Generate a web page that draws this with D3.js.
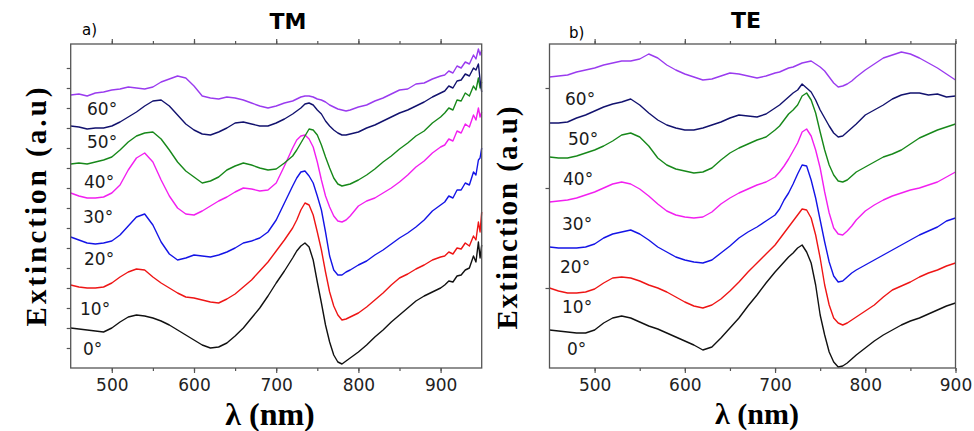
<!DOCTYPE html>
<html lang="en">
<head>
<meta charset="UTF-8">
<title>Extinction spectra TM / TE</title>
<style>
* {
    margin: 0;
    padding: 0;
}
body {
    background: #fff;
}
svg {
    display: block;
}
.tick line {
    stroke: #555;
    stroke-width: 1.2;
}
.domain {
    display: none;
}
</style>
<script src="https://cdn.jsdelivr.net/npm/d3@7/dist/d3.min.js"></script>
</head>
<body>
<div id="chart"></div>
<script>
// angle of incidence for each curve, bottom to top
var angles = ['0°', '10°', '20°', '30°', '40°', '50°', '60°'];
var colors = ['#111111', '#ee1515', '#1414e6', '#f21ff0', '#17881a', '#12126e', '#9a3bef'];

// TM wavelengths (nm)
var tmWl = [450, 460, 470, 480, 490, 500, 510, 520, 530, 540, 550, 560, 570, 580, 590, 600, 610, 620, 630, 640,
    650, 660, 670, 680, 690, 700, 710, 720, 725, 730, 735, 740, 745, 750, 755, 760, 765, 770, 775, 780, 785, 790,
    800, 810, 820, 830, 840, 850, 860, 870, 880, 890, 900, 905, 910, 915, 920, 925, 930, 935, 940, 943, 946, 948, 950];

// TM extinction (a.u., curves offset)
var tm0 = [4.0, 3.9, 3.8, 3.7, 3.6, 4.0, 4.6, 5.1, 5.3, 5.2, 5.0, 4.7, 4.3, 3.8, 3.3, 2.8, 2.3, 2.0, 2.1, 2.5,
    3.2, 4.0, 5.0, 6.0, 7.2, 8.5, 9.7, 11.0, 11.7, 12.2, 12.5, 12.1, 10.8, 8.6, 6.5, 4.3, 2.6, 1.3, 0.6, 0.4, 0.7, 1.0,
    1.6, 2.3, 3.1, 3.8, 4.6, 5.3, 6.0, 6.7, 7.2, 7.6, 8.0, 8.3, 8.7, 8.6, 9.2, 9.3, 9.8, 10.0, 11.2, 10.6, 12.6, 11.0, 12.3];
var tm10 = [8.3, 8.1, 8.0, 8.0, 8.1, 8.5, 9.1, 9.6, 9.9, 9.8, 9.1, 8.5, 8.0, 7.5, 7.1, 7.0, 6.8, 6.6, 6.5, 6.9,
    7.4, 8.1, 8.8, 9.7, 10.6, 11.7, 12.8, 14.0, 14.8, 15.8, 16.5, 16.3, 15.3, 13.6, 11.8, 9.6, 7.6, 6.2, 5.3, 4.8, 4.9, 5.1,
    5.5, 6.1, 6.8, 7.5, 8.3, 9.0, 9.4, 9.9, 10.3, 10.8, 11.1, 11.2, 11.6, 11.4, 12.0, 11.9, 12.5, 12.2, 13.2, 12.8, 14.6, 13.6, 15.6];
var tm20 = [13.1, 12.8, 12.5, 12.4, 12.5, 12.7, 13.3, 14.2, 15.1, 15.4, 14.3, 12.6, 11.4, 10.8, 11.0, 11.3, 11.2, 11.1, 11.3, 11.6,
    12.0, 12.5, 12.7, 13.0, 13.6, 14.8, 16.5, 18.2, 19.0, 19.6, 19.7, 19.2, 18.5, 17.2, 15.8, 13.6, 11.2, 9.8, 9.3, 9.3, 9.6, 9.8,
    10.3, 10.7, 11.3, 11.8, 12.4, 13.0, 13.5, 14.1, 14.8, 15.7, 16.3, 16.6, 17.2, 17.0, 17.8, 17.8, 18.5, 18.3, 19.6, 19.3, 20.8, 21.0, 22.0];
var tm30 = [17.5, 17.2, 17.0, 17.0, 17.1, 17.5, 18.3, 19.8, 21.0, 21.5, 20.6, 18.8, 17.2, 16.0, 15.4, 15.3, 15.7, 16.2, 16.7, 17.1,
    17.6, 18.0, 17.9, 17.7, 17.8, 18.5, 20.2, 22.0, 22.8, 23.2, 23.3, 22.9, 22.1, 20.6, 18.8, 17.2, 16.1, 15.2, 14.7, 14.6, 14.8, 15.2,
    16.2, 16.7, 17.0, 17.5, 18.0, 18.6, 19.3, 20.1, 20.7, 21.5, 22.1, 22.3, 22.9, 22.7, 23.7, 23.5, 24.4, 24.1, 25.3, 24.8, 26.0, 25.1, 25.6];
var tm40 = [20.4, 20.5, 20.4, 20.6, 20.8, 21.1, 21.8, 22.6, 23.2, 23.5, 23.6, 22.9, 21.8, 20.6, 19.7, 19.1, 18.5, 18.7, 19.1, 19.8,
    20.2, 20.5, 20.3, 20.0, 19.8, 19.9, 20.5, 21.2, 21.8, 22.5, 23.2, 23.9, 23.8, 23.3, 22.3, 21.1, 20.0, 19.0, 18.4, 18.2, 18.3, 18.4,
    18.8, 19.3, 19.9, 20.6, 21.2, 21.9, 22.5, 23.2, 23.7, 24.5, 25.1, 25.5, 26.0, 25.8, 26.8, 26.7, 27.5, 27.2, 28.2, 27.8, 29.0, 28.0, 28.6];
var tm50 = [24.2, 24.1, 23.9, 24.0, 24.0, 24.2, 24.6, 25.1, 25.6, 26.2, 26.7, 26.8, 26.2, 25.3, 24.4, 23.8, 23.4, 23.3, 23.6, 24.0,
    24.5, 24.6, 24.4, 24.2, 24.2, 24.5, 24.9, 25.4, 25.7, 26.0, 26.4, 26.5, 26.3, 25.8, 25.4, 24.7, 24.2, 23.8, 23.5, 23.3, 23.3, 23.4,
    23.6, 24.0, 24.3, 24.7, 25.1, 25.5, 25.8, 26.2, 26.6, 27.1, 27.5, 27.7, 28.2, 28.0, 28.7, 28.8, 29.4, 29.2, 30.0, 29.8, 30.4, 28.8, 27.6];
var tm60 = [27.3, 27.4, 27.2, 27.5, 27.6, 27.8, 27.9, 28.1, 28.0, 27.9, 28.1, 28.6, 28.9, 29.2, 29.0, 28.2, 27.2, 27.0, 26.9, 27.1,
    27.0, 26.8, 26.5, 26.2, 26.0, 26.2, 26.5, 26.7, 26.9, 27.1, 27.2, 27.2, 27.1, 26.9, 26.8, 26.6, 26.3, 26.1, 25.9, 25.8, 25.7, 25.8,
    26.1, 26.3, 26.7, 27.0, 27.4, 27.8, 27.9, 28.4, 28.5, 28.9, 29.2, 29.3, 29.7, 29.5, 30.2, 30.0, 30.6, 30.4, 31.3, 30.9, 31.9, 31.3, 31.8];

// TE wavelengths (nm)
var teWl = [450, 460, 470, 480, 490, 500, 510, 520, 530, 540, 550, 560, 570, 580, 590, 600, 610, 620, 630, 640,
    650, 660, 670, 680, 690, 700, 705, 710, 715, 720, 725, 730, 735, 740, 745, 750, 755, 760, 765, 770, 775, 780, 785, 790,
    800, 810, 820, 830, 840, 850, 860, 870, 880, 890, 900];

// TE extinction (a.u., curves offset)
var te0 = [3.8, 3.7, 3.6, 3.5, 3.5, 3.8, 4.5, 5.0, 5.2, 5.0, 4.6, 4.2, 3.9, 3.5, 3.1, 2.7, 2.3, 1.8, 2.1, 3.0,
    4.0, 5.0, 6.2, 7.3, 8.5, 9.6, 10.1, 10.6, 11.1, 11.5, 12.0, 12.3, 11.6, 10.5, 8.3, 5.3, 3.3, 1.6, 0.6, 0.1, 0.2, 0.5, 0.9, 1.3,
    2.0, 2.7, 3.3, 3.8, 4.3, 4.7, 5.0, 5.4, 5.8, 6.2, 6.5];
var te10 = [8.0, 7.7, 7.5, 7.5, 7.6, 7.9, 8.5, 9.0, 9.1, 9.0, 8.7, 8.3, 8.0, 7.6, 7.1, 6.6, 6.2, 6.0, 6.3, 6.9,
    7.7, 8.6, 9.6, 10.5, 11.4, 12.3, 12.9, 13.5, 14.1, 14.7, 15.3, 15.9, 15.8, 15.0, 13.3, 11.0, 8.3, 6.3, 5.0, 4.5, 4.3, 4.5, 4.8, 5.1,
    5.7, 6.3, 7.1, 7.8, 8.2, 8.6, 9.1, 9.5, 9.8, 10.2, 10.5];
var te20 = [12.1, 12.0, 12.0, 12.0, 12.1, 12.4, 13.0, 13.4, 13.6, 13.8, 13.4, 12.8, 12.1, 11.6, 11.1, 10.8, 10.6, 10.5, 10.8, 11.5,
    12.2, 13.0, 13.6, 14.1, 14.7, 15.3, 15.9, 16.8, 17.5, 18.4, 19.4, 20.3, 20.2, 18.8, 17.0, 14.8, 12.6, 10.6, 9.2, 8.6, 8.7, 9.1, 9.5, 9.8,
    10.3, 10.8, 11.3, 11.8, 12.3, 12.8, 13.3, 13.7, 14.1, 14.7, 15.0];
var te30 = [16.6, 16.7, 16.8, 17.0, 17.3, 17.6, 18.0, 18.4, 18.6, 18.4, 17.9, 17.2, 16.4, 15.7, 15.3, 15.1, 15.0, 15.1, 15.6, 16.4,
    17.0, 17.5, 17.9, 18.3, 18.6, 19.1, 19.6, 20.2, 20.9, 21.7, 22.5, 23.6, 23.9, 23.2, 21.8, 20.0, 17.6, 15.5, 14.0, 13.4, 13.3, 13.7, 14.2, 14.8,
    15.7, 16.3, 16.8, 17.2, 17.5, 17.8, 18.0, 18.3, 18.6, 19.1, 19.6];
var te40 = [21.1, 21.0, 21.0, 21.2, 21.5, 21.8, 22.2, 22.7, 23.3, 23.5, 23.1, 22.2, 21.0, 20.3, 19.9, 19.7, 19.5, 19.6, 20.0, 20.8,
    21.5, 22.0, 22.4, 22.8, 23.1, 23.8, 24.2, 24.8, 25.4, 25.8, 26.3, 27.2, 27.5, 26.8, 25.5, 23.6, 21.8, 20.3, 19.3, 18.7, 18.6, 18.8, 19.2, 19.6,
    20.1, 20.6, 21.1, 21.4, 21.8, 22.4, 23.0, 23.4, 23.8, 24.1, 24.4];
var te50 = [24.5, 24.5, 24.6, 25.0, 25.3, 25.7, 26.1, 26.4, 26.6, 26.9, 26.3, 25.5, 24.8, 24.3, 24.0, 23.8, 23.8, 24.0, 24.3, 24.6,
    25.0, 25.3, 25.2, 25.1, 25.4, 26.0, 26.3, 26.7, 27.1, 27.5, 27.8, 28.4, 28.0, 27.6, 26.8, 25.8, 25.0, 24.2, 23.5, 23.1, 23.2, 23.6, 24.0, 24.4,
    25.3, 25.8, 26.3, 26.9, 27.3, 27.5, 27.5, 27.3, 27.4, 27.1, 27.2];
var te60 = [29.1, 29.2, 29.3, 29.6, 29.8, 30.0, 30.3, 30.5, 30.7, 30.7, 30.9, 31.4, 31.0, 30.3, 29.8, 29.4, 29.1, 28.8, 28.9, 29.2,
    29.5, 29.4, 29.2, 29.0, 29.2, 29.5, 29.6, 29.8, 30.0, 30.1, 30.3, 30.5, 30.6, 30.7, 30.4, 30.1, 29.7, 29.1, 28.5, 28.1, 28.2, 28.4, 28.7, 29.1,
    29.8, 30.4, 31.0, 31.3, 31.6, 31.4, 31.0, 30.5, 30.0, 29.4, 28.8];

var xTickLabels = [500, 600, 700, 800, 900];
var xMinorTicks = [500, 550, 600, 650, 700, 750, 800, 850, 900];
var tmYTicks = [2, 4, 6, 8, 10, 12, 14, 16, 18, 20, 22, 24, 26, 28, 30];
var teYTicks = [8, 18, 28];

var w = 974,
    h = 431,
    plotTop = 44,
    plotBottom = 368,
    sansFont = '"DejaVu Sans", Verdana, sans-serif',
    serifFont = '"Liberation Serif", "Times New Roman", serif';

var svg = d3.select('#chart')
    .append('svg')
    .attr('width', w)
    .attr('height', h);

var panels = [
    {
        title: 'TM', tag: 'a)', wl: tmWl,
        series: [tm0, tm10, tm20, tm30, tm40, tm50, tm60],
        xDomain: [450, 950], left: 70.7, right: 481.7, yTicks: tmYTicks,
        titleX: 288, titleY: 29, tagX: 82, tagY: 35,
        tickPad: 6, xLabelX: 270, xLabelY: 425, xLabelSize: 32,
        yLabelX: 46, yLabelY: 207, yLabelLen: 239,
        labels: [[83, 355], [80, 315], [84, 265], [83, 223], [84, 188], [87, 148], [87, 115]]
    },
    {
        title: 'TE', tag: 'b)', wl: teWl,
        series: [te0, te10, te20, te30, te40, te50, te60],
        xDomain: [450, 900], left: 549.5, right: 955.5, yTicks: teYTicks,
        titleX: 746, titleY: 28, tagX: 569, tagY: 38,
        tickPad: 6, xLabelX: 757, xLabelY: 424, xLabelSize: 30,
        yLabelX: 517, yLabelY: 218, yLabelLen: 223,
        labels: [[567, 355], [562, 313], [560, 273], [562, 230], [563, 185], [568, 145], [565, 105]]
    }
];

panels.forEach(function (p) {
    var xScale = d3.scaleLinear().domain(p.xDomain).range([p.left, p.right]);
    var yScale = d3.scaleLinear().domain([0, 32.4]).range([plotBottom, plotTop]);
    var g = svg.append('g');

    // CURVES
    var line = d3.line()
        .x(function (d) { return xScale(d[0]); })
        .y(function (d) { return yScale(d[1]); });

    p.series.forEach(function (vals, i) {
        var pts = p.wl.map(function (wl, k) { return [wl, vals[k]]; });
        g.append('path')
            .datum(pts)
            .attr('d', line)
            .attr('fill', 'none')
            .attr('stroke', colors[i])
            .attr('stroke-width', 1.4)
            .attr('stroke-linejoin', 'round');
    });

    // AXES (ticks pointing outwards)
    g.append('g')
        .attr('transform', 'translate(0,' + plotBottom + ')')
        .call(d3.axisBottom(xScale).tickValues(xMinorTicks).tickSize(3).tickFormat(''));
    var xAxis = g.append('g')
        .attr('transform', 'translate(0,' + plotBottom + ')')
        .call(d3.axisBottom(xScale).tickValues(xTickLabels).tickSize(5).tickPadding(p.tickPad).tickFormat(d3.format('d')));
    xAxis.selectAll('text')
        .style('font-family', sansFont)
        .style('font-size', '17px')
        .attr('fill', '#222');

    g.append('g')
        .attr('transform', 'translate(0,' + plotTop + ')')
        .call(d3.axisTop(xScale).tickValues(xMinorTicks).tickSize(3).tickFormat(''));
    g.append('g')
        .attr('transform', 'translate(0,' + plotTop + ')')
        .call(d3.axisTop(xScale).tickValues(xTickLabels).tickSize(5).tickFormat(''));

    g.append('g')
        .attr('transform', 'translate(' + p.left + ',0)')
        .call(d3.axisLeft(yScale).tickValues(p.yTicks).tickSize(4).tickFormat(''));

    // FRAME
    g.append('rect')
        .attr('x', p.left)
        .attr('y', plotTop)
        .attr('width', p.right - p.left)
        .attr('height', plotBottom - plotTop)
        .attr('fill', 'none')
        .attr('stroke', '#555')
        .attr('stroke-width', 1.3);

    // ANGLE LABELS
    angles.forEach(function (a, i) {
        g.append('text')
            .attr('x', p.labels[i][0])
            .attr('y', p.labels[i][1])
            .text(a)
            .style('font-family', sansFont)
            .style('font-size', '17px')
            .attr('fill', '#1a1a1a');
    });

    // TITLES
    g.append('text')
        .attr('x', p.titleX)
        .attr('y', p.titleY)
        .attr('text-anchor', 'middle')
        .text(p.title)
        .style('font-family', sansFont)
        .style('font-weight', 'bold')
        .style('font-size', '22px');

    g.append('text')
        .attr('x', p.tagX)
        .attr('y', p.tagY)
        .text(p.tag)
        .style('font-family', sansFont)
        .style('font-size', '15px');

    g.append('text')
        .attr('x', p.xLabelX)
        .attr('y', p.xLabelY)
        .attr('text-anchor', 'middle')
        .text('λ (nm)')
        .style('font-family', serifFont)
        .style('font-weight', 'bold')
        .style('font-size', p.xLabelSize + 'px');

    g.append('text')
        .attr('transform', 'translate(' + p.yLabelX + ',' + p.yLabelY + ') rotate(-90)')
        .attr('text-anchor', 'middle')
        .attr('textLength', p.yLabelLen)
        .attr('lengthAdjust', 'spacing')
        .text('Extinction (a.u)')
        .style('font-family', serifFont)
        .style('font-weight', 'bold')
        .style('font-size', '29px');
});
</script>
</body>
</html>
